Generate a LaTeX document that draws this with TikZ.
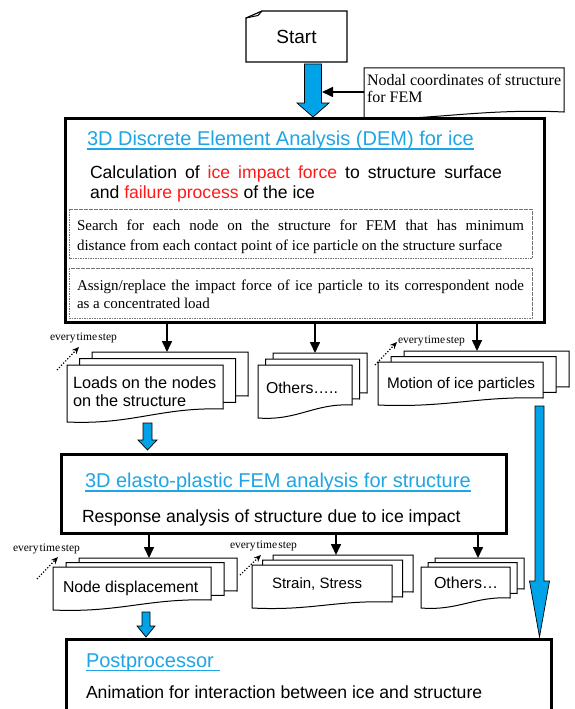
\documentclass[tikz,border=0pt]{standalone}
\usepackage{fontspec}
\setmainfont{Liberation Sans}
\newfontfamily\tms{Liberation Serif}
\usetikzlibrary{arrows.meta,calc}
\definecolor{arrowblue}{RGB}{0,162,232}
\definecolor{titleblue}{RGB}{30,165,230}
\definecolor{ired}{RGB}{255,25,25}
\newcommand\docsheet[5]{%
  \pgfmathsetmacro\dsXa{#1}\pgfmathsetmacro\dsXb{#1+#3}%
  \pgfmathsetmacro\dsYt{#2}\pgfmathsetmacro\dsYr{#2+#4}\pgfmathsetmacro\dsYl{#2+#4+#5}%
  \pgfmathsetmacro\dsCa{#1+0.42*#3}\pgfmathsetmacro\dsCb{#1+0.6*#3}%
  \pgfmathsetmacro\dsCya{#2+#4+#5+3}\pgfmathsetmacro\dsCyb{#2+#4-2}%
  \draw[sheet] (\dsXa,\dsYt) -- (\dsXb,\dsYt) -- (\dsXb,\dsYr)
    .. controls (\dsCb,\dsCyb) and (\dsCa,\dsCya) .. (\dsXa,\dsYl) -- cycle;}
\newcommand\docstack[7]{%
  \docsheet{#1+2*#6}{#2-2*#7}{#3}{#4}{#5}%
  \docsheet{#1+#6}{#2-#7}{#3}{#4}{#5}%
  \docsheet{#1}{#2}{#3}{#4}{#5}}
\newcommand\blockarr[5]{%
  \path[blockarrow] let \p1=(#1), \p2=(#2) in
    (\x1-#3pt,\y1) -- (\x1+#3pt,\y1) -- (\x1+#3pt,\y2+#5pt) -- (\x1+#4pt,\y2+#5pt)
    -- (\x1,\y2) -- (\x1-#4pt,\y2+#5pt) -- (\x1-#3pt,\y2+#5pt) -- cycle;}
\begin{document}
\begin{tikzpicture}[x=1pt,y=-1pt,
  every node/.style={inner sep=0pt,outer sep=0pt},
  bigbox/.style={draw=black,line width=3pt,fill=white,anchor=north west,inner sep=0pt},
  dotbox/.style={draw=black!55,line width=0.6pt,dash pattern=on 1.6pt off 0.9pt},
  sheet/.style={draw=black,line width=1pt,fill=white},
  flowarrow/.style={line width=1.6pt,-{Triangle[length=11pt,width=10pt]}},
  dotarrow/.style={line width=1.2pt,dash pattern=on 1.2pt off 1.8pt,-{Stealth[length=7pt,width=6pt]}},
  blockarrow/.style={fill=arrowblue,draw=black,line width=0.7pt},
  txt/.style={anchor=base west},
  ttl/.style={txt,text=titleblue,font=\fontsize{20pt}{24pt}\selectfont},
  body/.style={txt,font=\fontsize{17.6pt}{21pt}\selectfont},
  ser/.style={txt,font=\tms\fontsize{15pt}{18pt}\selectfont},
  stepl/.style={txt,font=\tms\fontsize{11.5pt}{13pt}\selectfont},
  uline/.style={titleblue,line width=1.2pt}]
\useasboundingbox[fill=white] (0,0) rectangle (575,709);

% Start
\draw[line width=1.2pt,fill=white] (246,18) -- (262,11) -- (347,11) -- (347,62) -- (246,62) -- cycle;
\draw[line width=1pt] (246,18) -- (258,15.5) -- (262,11);
\node[font=\fontsize{19pt}{22pt}\selectfont] (start) at (296.5,37) {Start};

% Nodal coordinates
\draw[sheet] (364,68) -- (564,68) -- (564,112) .. controls (480,108) and (420,122) .. (364,118) -- cycle;
\node[txt,font=\tms\fontsize{16pt}{18pt}\selectfont] (nodal1) at (367,85) {Nodal coordinates of structure};
\node[txt,font=\tms\fontsize{16pt}{18pt}\selectfont] (nodal2) at (367,102) {for FEM};
\coordinate (nodalL) at (364,92);
\coordinate (shaftR) at (322,92);

% block arrow Start -> DEM
\coordinate (a1s) at (313,64);
\coordinate (a1t) at (313,117);
\blockarr{a1s}{a1t}{8.5}{16}{14}
\draw[flowarrow] (nodalL) -- (shaftR);

% DEM box
\node[bigbox,minimum width=478.5pt,minimum height=203.5pt] (dem) at (65.5,118.5) {};
\node[ttl] (demt) at (87,145) {3D Discrete Element Analysis (DEM) for ice};
\draw[uline] ([yshift=-4pt]demt.base west) -- ([yshift=-4pt]demt.base east);
\node[body] (deml1) at (90,178) {\makebox[412pt][s]{Calculation of \textcolor{ired}{ice impact force} to structure surface}};
\node[body] (deml2) at (90,198) {and \textcolor{ired}{failure process} of the ice};
\draw[dotbox] (69,209) rectangle (532,258);
\draw[dotbox] (69,268) rectangle (532,318);
\node[ser] (s1) at (77,230) {\makebox[447pt][s]{Search for each node on the structure for FEM that has minimum}};
\node[ser] (s2) at (77,250) {distance from each contact point of ice particle on the structure surface};
\node[ser] (s3) at (77,290) {\makebox[447pt][s]{Assign/replace the impact force of ice particle to its correspondent node}};
\node[ser] (s4) at (77,308) {as a concentrated load};

% DEM outputs
\docstack{67}{365}{156}{44}{13}{12.5}{6.5}
\docstack{258}{365}{94}{40}{13}{7.5}{6}
\docstack{378}{362}{165}{36}{7}{13}{5.5}
\node[txt,font=\fontsize{16.3pt}{18pt}\selectfont] (loads1) at (73,388) {Loads on the nodes};
\node[txt,font=\fontsize{16.3pt}{18pt}\selectfont] (loads2) at (73,406) {on the structure};
\node[txt,font=\fontsize{15.8pt}{18pt}\selectfont] (oth1) at (266,393) {Others…..};
\node[txt,font=\fontsize{15.3pt}{18pt}\selectfont] (motion) at (387,388) {Motion of ice particles};
\coordinate (loadsTop) at (167,352);
\coordinate (oth1Top) at (315,353);
\coordinate (motionTop) at (477,351);
\draw[flowarrow] (dem.south -| loadsTop) -- (loadsTop);
\draw[flowarrow] (dem.south -| oth1Top) -- (oth1Top);
\draw[flowarrow] (dem.south -| motionTop) -- (motionTop);
\node[stepl] (st1) at (50,340) {{\spaceskip=1.2pt every time step}};
\node[stepl] (st2) at (398,343) {{\spaceskip=1.2pt every time step}};
\coordinate (d1a) at (57,370); \coordinate (d1b) at (79,347);
\coordinate (d2a) at (375,365); \coordinate (d2b) at (397,342);
\draw[dotarrow] (d1a) -- (d1b);
\draw[dotarrow] (d2a) -- (d2b);

% block arrows
\coordinate (a2s) at (147.5,423); \coordinate (a2t) at (147.5,450);
\blockarr{a2s}{a2t}{4.5}{9.5}{10}

% FEM box
\node[bigbox,minimum width=445pt,minimum height=79pt] (fem) at (61.5,454.5) {};
\node[ttl] (femt) at (85,487) {3D elasto-plastic FEM analysis for structure};
\draw[uline] ([yshift=-4pt]femt.base west) -- ([yshift=-4pt]femt.base east);
\node[body] (feml) at (82,522) {Response analysis of structure due to ice impact};

% FEM outputs
\docstack{53}{567}{158}{33}{10}{13}{4.5}
\docstack{252}{565}{140}{37}{6}{10.5}{5}
\docstack{421}{567}{89}{31}{10}{7}{4.5}
\node[txt,font=\fontsize{15.8pt}{18pt}\selectfont] (nodedisp) at (63,592) {Node displacement};
\node[txt,font=\fontsize{15pt}{18pt}\selectfont] (strain) at (272,588) {Strain, Stress};
\node[txt,font=\fontsize{16pt}{18pt}\selectfont] (oth2) at (434,588) {Others…};
\coordinate (nodeTop) at (149,558);
\coordinate (strainTop) at (336,555);
\coordinate (oth2Top) at (478,558);
\draw[flowarrow] (fem.south -| nodeTop) -- (nodeTop);
\draw[flowarrow] (fem.south -| strainTop) -- (strainTop);
\draw[flowarrow] (fem.south -| oth2Top) -- (oth2Top);
\node[stepl] (st3) at (13,551) {{\spaceskip=1.2pt every time step}};
\node[stepl] (st4) at (230,548) {{\spaceskip=1.2pt every time step}};
\coordinate (d3a) at (37,579); \coordinate (d3b) at (58,557);
\coordinate (d4a) at (240,575); \coordinate (d4b) at (261,555);
\draw[dotarrow] (d3a) -- (d3b);
\draw[dotarrow] (d4a) -- (d4b);

\coordinate (a3s) at (146,612); \coordinate (a3t) at (146,637);
\blockarr{a3s}{a3t}{4}{9}{11}
\coordinate (a4s) at (539.5,406); \coordinate (a4t) at (539.5,637);
\blockarr{a4s}{a4t}{4.5}{10}{56}

% Postprocessor
\node[bigbox,minimum width=485pt,minimum height=90pt] (post) at (66.5,639.5) {};
\node[ttl] (postt) at (86,667) {Postprocessor};
\draw[uline] ([yshift=-3.5pt]postt.base west) -- ([yshift=-3.5pt,xshift=6pt]postt.base east);
\node[body] (postl) at (86,698) {Animation for interaction between ice and structure};
\end{tikzpicture}
\end{document}
